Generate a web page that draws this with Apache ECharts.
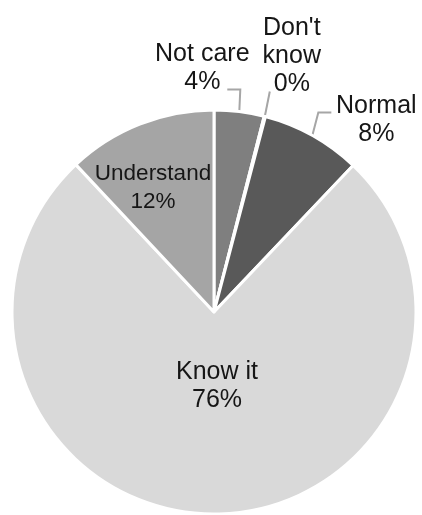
<!DOCTYPE html>
<html><head><meta charset="utf-8">
<script src="https://cdn.jsdelivr.net/npm/echarts@6/dist/echarts.min.js"></script>
<style>html,body{margin:0;padding:0;background:#fff}#c{width:422px;height:515px}</style>
</head><body><div id="c"></div>
<script>
var categories = ['Not care', "Don't know", 'Normal', 'Know it', 'Understand'];
var values = [4, 0.1, 8, 76, 12];
var colors = ['#7f7f7f', '#a0a0a0', '#595959', '#d9d9d9', '#a5a5a5'];

var chart = echarts.init(document.getElementById('c'));
var data = categories.map(function (n, i) {
  return { name: n, value: values[i], itemStyle: { color: colors[i] } };
});
var outside = { 0: true, 1: true, 2: true };
data.forEach(function (d, i) {
  if (outside[i]) {
    d.label = { position: 'outside' };
    d.labelLine = { show: true, length: 15, length2: 10 };
  } else {
    d.label = { position: 'inner' };
    d.labelLine = { show: false };
  }
});
data[4].label.fontSize = 22.5;

var cx = 214, cy = 312, R = 202;
chart.setOption({
  animation: false,
  series: [{
    type: 'pie',
    center: [cx, cy],
    radius: [0, R],
    startAngle: 90,
    clockwise: true,
    avoidLabelOverlap: false,
    data: data,
    itemStyle: { borderColor: '#ffffff', borderWidth: 3 },
    label: {
      fontFamily: 'Liberation Sans, Arial, sans-serif',
      fontSize: 25,
      lineHeight: 28,
      color: '#161616',
      align: 'center',
      formatter: function (p) {
        var n = p.name === "Don't know" ? "Don't\nknow" : p.name;
        return n + '\n' + Math.round(p.percent) + '%';
      }
    },
    labelLine: { lineStyle: { color: '#a6a6a6', width: 2 }, smooth: false },
    labelLayout: function (p) {
      var i = p.dataIndex;
      var pts = p.labelLinePoints;
      if (i === 0 && pts) {
        var a = pts[0];
        return { x: a[0] - 37, y: a[1] - 43, align: 'center', verticalAlign: 'middle',
          labelLinePoints: [a, [a[0] + 1, a[1] - 22], [a[0] - 12, a[1] - 22]] };
      }
      if (i === 1 && pts) {
        var b = pts[0];
        return { x: b[0] + 27, y: b[1] - 60, align: 'center', verticalAlign: 'middle',
          labelLinePoints: [b, [b[0] + 5, b[1] - 25], [b[0] + 5, b[1] - 25]] };
      }
      if (i === 2 && pts) {
        var c = pts[0];
        return { x: c[0] + 64, y: c[1] - 15, align: 'center', verticalAlign: 'middle',
          labelLinePoints: [c, [c[0] + 6, c[1] - 23], [c[0] + 19, c[1] - 23]] };
      }
      if (i === 3) {
        return { x: cx + 3, y: cy + 74, align: 'center', verticalAlign: 'middle' };
      }
      if (i === 4) {
        return { x: cx - 61, y: cy - 124, align: 'center', verticalAlign: 'middle' };
      }
    }
  }]
});
</script></body></html>
